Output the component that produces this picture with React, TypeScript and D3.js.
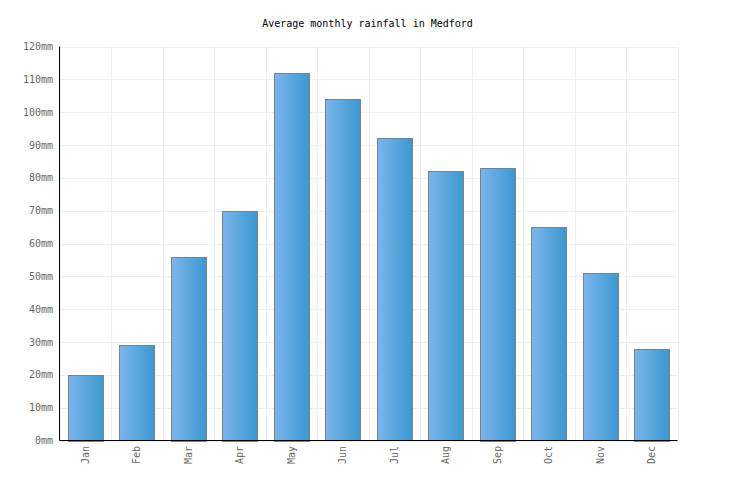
import React from "react";
import * as d3 from "d3";

const months = ["Jan", "Feb", "Mar", "Apr", "May", "Jun", "Jul", "Aug", "Sep", "Oct", "Nov", "Dec"];
const rainfall = [20, 29, 56, 70, 112, 104, 92, 82, 83, 65, 51, 28];
const yTicks = [0, 10, 20, 30, 40, 50, 60, 70, 80, 90, 100, 110, 120];
const title = "Average monthly rainfall in Medford";

export default function App() {
  const W = 736, H = 500;
  const left = 59.5, right = 677.5, top = 46.5, bottom = 440.5;
  const x = d3.scaleBand<string>().domain(months).range([left, right]).paddingInner(0.33).paddingOuter(0.165);
  const xb = d3.scaleBand<string>().domain(months).range([left, right]).padding(0);
  const y = d3.scaleLinear().domain([0, 120]).range([bottom, top]);
  const font = "'DejaVu Sans Mono', monospace";
  return (
    <svg width={W} height={H} style={{ position: "absolute", left: 0, top: 0 }}>
      <defs>
        <linearGradient id="barGrad" x1="0" x2="1" y1="0" y2="0">
          <stop offset="0%" stopColor="#7cb5ec" />
          <stop offset="100%" stopColor="#3a98d0" />
        </linearGradient>
      </defs>
      <rect width={W} height={H} fill="#fff" />
      <text x={367.5} y={27} textAnchor="middle" fontFamily={font} fontSize={10} fill="#000">{title}</text>
      {yTicks.map((t) => (
        <g key={t}>
          <line x1={left} x2={right} y1={Math.round(y(t)) + 0.5} y2={Math.round(y(t)) + 0.5} stroke="#eeeeee" />
          <text x={53} y={y(t) + 3.5} textAnchor="end" fontFamily={font} fontSize={10} fill="#666">{t}mm</text>
        </g>
      ))}
      {months.map((m) => (
        <line key={"v" + m} x1={Math.round(xb(m)! + xb.bandwidth()) + 0.5} x2={Math.round(xb(m)! + xb.bandwidth()) + 0.5} y1={top} y2={bottom} stroke="#eeeeee" />
      ))}
      {months.map((m, i) => (
        <rect key={m} x={Math.round(x(m)!) + 0.5} y={Math.round(y(rainfall[i])) + 0.5} width={Math.round(x.bandwidth())} height={Math.round(bottom - y(rainfall[i]))} fill="url(#barGrad)" stroke="#808080" strokeWidth={1} />
      ))}
      <line x1={left} x2={left} y1={top} y2={bottom} stroke="#000" />
      <line x1={left} x2={right} y1={bottom} y2={bottom} stroke="#000" />
      {months.map((m) => {
        const cx = x(m)! + x.bandwidth() / 2;
        return (
          <text key={"l" + m} transform={`translate(${cx + 3.5},${446}) rotate(-90)`} textAnchor="end" fontFamily={font} fontSize={10} fill="#666">{m}</text>
        );
      })}
    </svg>
  );
}
